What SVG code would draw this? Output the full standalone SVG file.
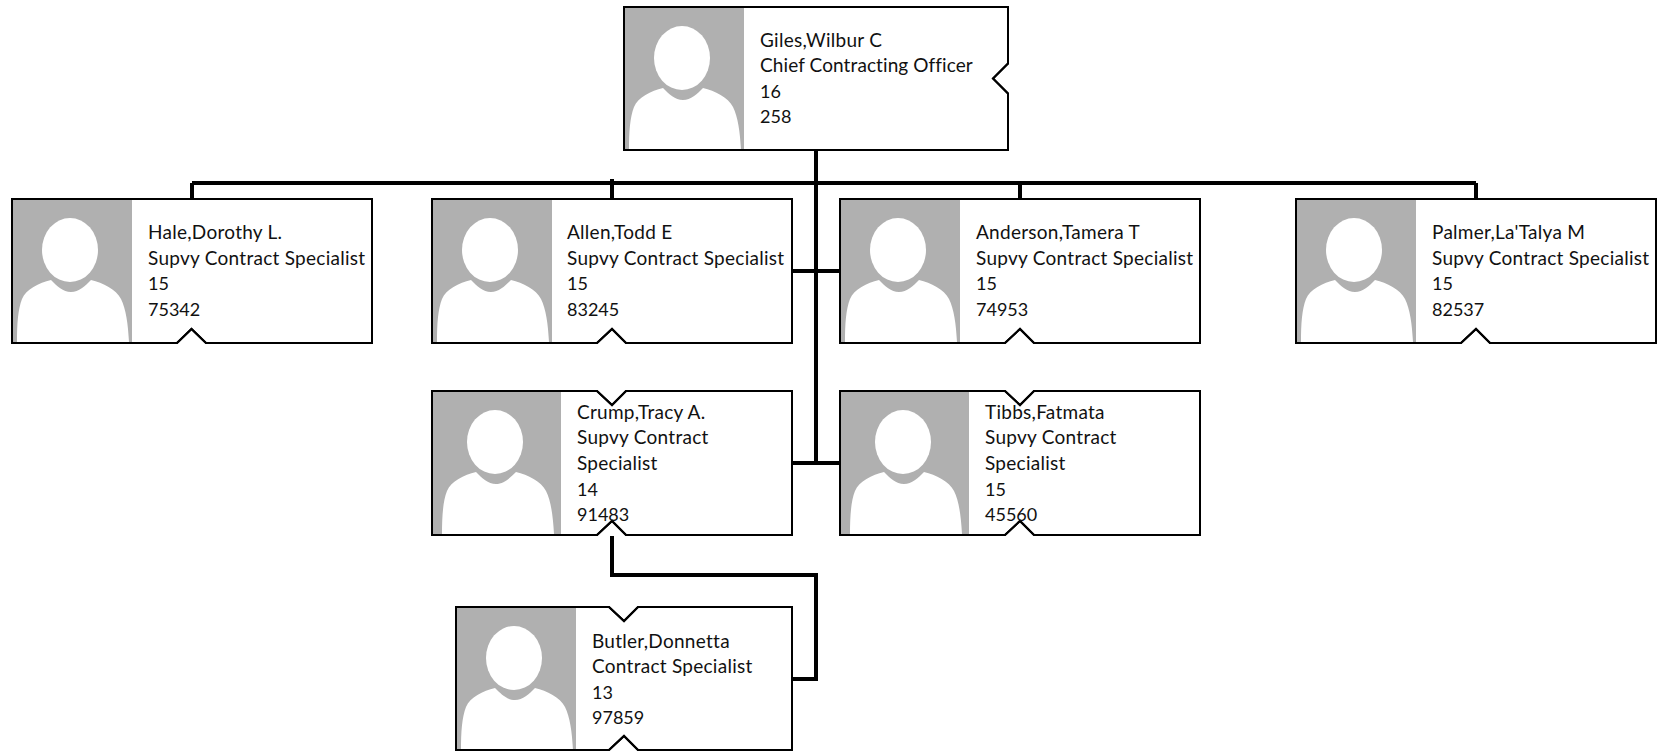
<svg xmlns="http://www.w3.org/2000/svg" width="1658" height="751" viewBox="0 0 1658 751">
<style>
.box{fill:#fff;stroke:#000;stroke-width:2;stroke-linejoin:miter}
.out{fill:none;stroke:#000;stroke-width:2}
.bg{fill:#b0b0b0}
.fg{fill:#fff}
.conn{fill:none;stroke:#000;stroke-width:4;stroke-linejoin:miter}
text{font-family:"Lato","Carlito","Open Sans",sans-serif;font-size:19px;letter-spacing:.27px;fill:#111}
text.d{font-size:18px;letter-spacing:0}
text.t{letter-spacing:.1px}
</style>
<defs>
<g id="p">
<ellipse class="fg" cx="57" cy="51" rx="28" ry="32"/>
<path class="fg" d="M4 143C4 125 5 110 9 100C13 90 26 84 38 81C44 87 50 93 58 93C66 93 72 87 78 81C90 84 103 90 108 100C113 110 115 125 116 143Z"/>
</g>
</defs>
<rect width="1658" height="751" fill="#fff"/>
<g id="connectors">
<path class="conn" d="M816 150V464M192 183H1476M192 183V199M612 179V199M1020 183V199M1476 183V199M792 271H840M792 463H840"/>
<path class="conn" d="M612 536V575H816V679H792"/>
</g>
<g id="n-giles">
<path class="box" d="M624 7H1008V63.500L993 78.500L1008 93.500V150H624Z"/>
<rect class="bg" x="625" y="8" width="119" height="141"/><use href="#p" x="625" y="7"/>
<path class="out" d="M624 7H1008V63.500L993 78.500L1008 93.500V150H624Z"/>
<text x="760" y="47">Giles,Wilbur C</text><text class="t" x="760" y="72">Chief Contracting Officer</text><text class="d" x="760" y="98">16</text><text class="d" x="760" y="123">258</text>
</g>
<g id="n-hale">
<path class="box" d="M12 199H372V343H206L191.500 329L177 343H12Z"/>
<rect class="bg" x="13" y="200" width="119" height="142"/><use href="#p" x="13" y="199"/>
<path class="out" d="M12 199H372V343H206L191.500 329L177 343H12Z"/>
<text x="148" y="239">Hale,Dorothy L.</text><text x="148" y="265">Supvy Contract Specialist</text><text class="d" x="148" y="290">15</text><text class="d" x="148" y="316">75342</text>
</g>
<g id="n-allen">
<path class="box" d="M432 199H792V343H626L612 329L597 343H432Z"/>
<rect class="bg" x="433" y="200" width="119" height="142"/><use href="#p" x="433" y="199"/>
<path class="out" d="M432 199H792V343H626L612 329L597 343H432Z"/>
<text x="567" y="239">Allen,Todd E</text><text x="567" y="265">Supvy Contract Specialist</text><text class="d" x="567" y="290">15</text><text class="d" x="567" y="316">83245</text>
</g>
<g id="n-anderson">
<path class="box" d="M840 199H1200V343H1034L1020 329L1005 343H840Z"/>
<rect class="bg" x="841" y="200" width="119" height="142"/><use href="#p" x="841" y="199"/>
<path class="out" d="M840 199H1200V343H1034L1020 329L1005 343H840Z"/>
<text x="976" y="239">Anderson,Tamera T</text><text x="976" y="265">Supvy Contract Specialist</text><text class="d" x="976" y="290">15</text><text class="d" x="976" y="316">74953</text>
</g>
<g id="n-palmer">
<path class="box" d="M1296 199H1656V343H1490L1476 329L1461 343H1296Z"/>
<rect class="bg" x="1297" y="200" width="119" height="142"/><use href="#p" x="1297" y="199"/>
<path class="out" d="M1296 199H1656V343H1490L1476 329L1461 343H1296Z"/>
<text x="1432" y="239">Palmer,La'Talya M</text><text x="1432" y="265">Supvy Contract Specialist</text><text class="d" x="1432" y="290">15</text><text class="d" x="1432" y="316">82537</text>
</g>
<g id="n-crump">
<path class="box" d="M432 391H597L612 405L626 391H792V535H626L612 521L597 535H432Z"/>
<rect class="bg" x="433" y="392" width="128" height="142"/><use href="#p" x="438" y="391"/>
<path class="out" d="M432 391H597L612 405L626 391H792V535H626L612 521L597 535H432Z"/>
<text x="577" y="419">Crump,Tracy A.</text><text x="577" y="444">Supvy Contract</text><text x="577" y="470">Specialist</text><text class="d" x="577" y="496">14</text><text class="d" x="577" y="521">91483</text>
</g>
<g id="n-tibbs">
<path class="box" d="M840 391H1005L1020 405L1034 391H1200V535H1034L1020 521L1005 535H840Z"/>
<rect class="bg" x="841" y="392" width="128" height="142"/><use href="#p" x="846" y="391"/>
<path class="out" d="M840 391H1005L1020 405L1034 391H1200V535H1034L1020 521L1005 535H840Z"/>
<text x="985" y="419">Tibbs,Fatmata</text><text x="985" y="444">Supvy Contract</text><text x="985" y="470">Specialist</text><text class="d" x="985" y="496">15</text><text class="d" x="985" y="521">45560</text>
</g>
<g id="n-butler">
<path class="box" d="M456 607H609L624 621L638 607H792V750H638L624 736L609 750H456Z"/>
<rect class="bg" x="457" y="608" width="119" height="141"/><use href="#p" x="457" y="607"/>
<path class="out" d="M456 607H609L624 621L638 607H792V750H638L624 736L609 750H456Z"/>
<text x="592" y="648">Butler,Donnetta</text><text x="592" y="673">Contract Specialist</text><text class="d" x="592" y="699">13</text><text class="d" x="592" y="724">97859</text>
</g>
</svg>
